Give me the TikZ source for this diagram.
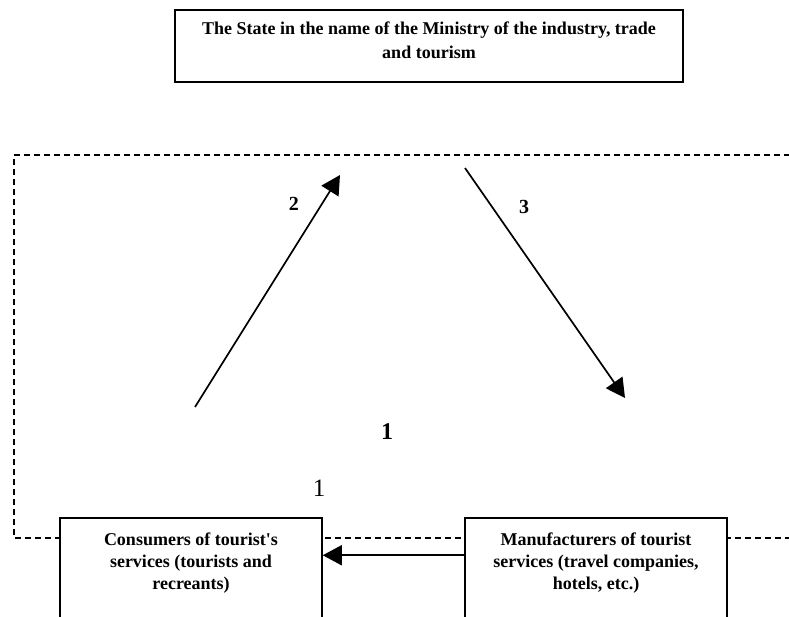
\documentclass[tikz,border=0pt]{standalone}
\usepackage{fontspec}
\setmainfont{Liberation Serif}
\usetikzlibrary{arrows.meta,positioning}
\tikzset{
    agent/.style={
        rectangle,
        draw=black,
        line width=1.5pt,
        fill=white,
        minimum width=262pt,
        minimum height=130pt,
        inner sep=0pt
    },
    boxtext/.style={
        align=center,
        inner sep=0pt,
        font=\fontsize{18}{22}\selectfont\bfseries
    },
    flow/.style={
        draw=black,
        line width=1.7pt,
        -{Triangle[length=19pt,width=20pt]}
    },
    border/.style={
        draw=black,
        line width=1.5pt,
        dash pattern=on 6pt off 4pt
    },
    num/.style={
        inner sep=0pt,
        font=\fontsize{20}{20}\selectfont\bfseries
    },
    bignum/.style={
        inner sep=0pt,
        font=\fontsize{25}{25}\selectfont
    }
}

\begin{document}
\begin{tikzpicture}[x=1pt, y=-1pt]
\path[use as bounding box, clip] (0,0) rectangle (789,617);

% Dashed frame around the market
\coordinate (frame_tr) at (800,155);
\coordinate (frame_tl) at (14,155);
\coordinate (frame_bl) at (14,538);
\coordinate (frame_br) at (800,538);
\draw[border] (frame_tr) -- (frame_tl) -- (frame_bl) -- (frame_br);

% State
\node[agent, minimum width=508pt, minimum height=72pt,
      label={[boxtext, font=\fontsize{18}{24}\selectfont\bfseries, anchor=north, yshift=-12pt]north:The State in the name of the Ministry of the industry, trade\\and tourism}]
      (state) at (429,46) {};

% Market participants
\node[agent, label={[boxtext, anchor=north, yshift=-15pt]north:Consumers of tourist\textquotesingle s\\services (tourists and\\recreants)}]
      (consumers) at (191,583) {};
\node[agent, label={[boxtext, anchor=north, yshift=-15pt]north:Manufacturers of tourist\\services (travel companies,\\hotels, etc.)}]
      (producers) at (596,583) {};

% Flows
\coordinate (up_from) at (195,407);
\coordinate (up_to) at (340,175);
\coordinate (down_from) at (465,168);
\coordinate (down_to) at (625,398);
\draw[flow] (up_from) -- node[num, pos=0.875, xshift=-28pt] {2} (up_to);
\draw[flow] (down_from) -- node[num, pos=0.17, xshift=32pt] {3} (down_to);
\draw[flow] ([yshift=-38pt]producers.north west) -- ([yshift=-38pt]consumers.north east);

% Numbers
\node[num, font=\fontsize{24}{24}\selectfont\bfseries] (market_no) at (387,432) {1};
\node[bignum] (border_no) at (319,488) {1};

\end{tikzpicture}
\end{document}
